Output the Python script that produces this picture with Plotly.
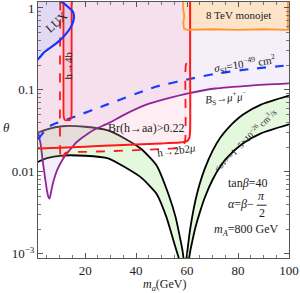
import plotly.graph_objects as go

# ---------------- data ----------------
lux_x = [1.0, 1.5, 4.0, 7.3, 10.0, 12.4, 14.2, 15.3, 15.6, 15.2, 14.4, 13.0, 11.2, 9.0]
lux_y = [0.235, 0.237, 0.29, 0.344, 0.40, 0.48, 0.57, 0.68, 0.80, 0.90, 0.96, 1.05, 1.16, 1.3]

h4b_x = [11.5, 11.5, 11.6, 12.0, 13.1, 14.2, 14.6, 14.7, 14.7]
h4b_y = [2.0, 0.06, 0.047, 0.043, 0.0425, 0.043, 0.047, 0.06, 2.0]

braa_x = [1.0, 10, 20, 30, 40, 50, 57, 59.8, 60.9, 61.2, 61.2, 61.2]
braa_y = [0.0193, 0.0197, 0.0203, 0.021, 0.0216, 0.0222, 0.0228, 0.0235, 0.026, 0.032, 0.2, 2.0]

h2b2mu_x = [10.3, 10.3, 10.5, 12.4, 20, 30, 40, 50, 56.5, 58.6, 59.3, 59.3, 59.5, 60.0, 60.6]
h2b2mu_y = [2.0, 0.0145, 0.0139, 0.0171, 0.0175, 0.0179, 0.0184, 0.0190, 0.0196, 0.021, 0.025, 0.15, 0.2, 0.222, 0.23]

sigma_x = [1.5, 6, 15, 29, 44, 48, 63, 71, 85, 100]
sigma_y = [0.025, 0.036, 0.046, 0.067, 0.1, 0.11, 0.14, 0.157, 0.18, 0.2]

bs_x = [1.5, 2.5, 3.5, 4.3, 4.9, 5.5, 6.0, 6.5, 7.2, 8.0, 9.0, 10.5, 12.0, 13.7, 16.0,
        18.8, 23, 29, 36, 44, 52, 60, 71, 85, 100]
bs_y = [0.031, 0.022, 0.0125, 0.0083, 0.0062, 0.0050, 0.0047, 0.0054, 0.0069, 0.0085,
        0.0105, 0.013, 0.0155, 0.018, 0.022, 0.026, 0.032, 0.039, 0.051, 0.066, 0.078,
        0.09, 0.104, 0.113, 0.12]

relicL_up_x = [1.5, 5, 11, 20, 29, 36, 42, 48, 53, 55.5, 57, 58.2, 58.8]
relicL_up_y = [0.030, 0.033, 0.036, 0.0355, 0.032, 0.025, 0.019, 0.012, 0.005, 0.0028, 0.0017, 0.0011, 0.0008]
relicL_lo_x = [1.5, 5, 11, 20, 29, 36, 42, 48, 51.9, 54, 55.8, 57.2]
relicL_lo_y = [0.0132, 0.0147, 0.0158, 0.0157, 0.0146, 0.0112, 0.0085, 0.0054, 0.0028, 0.0017, 0.0011, 0.0008]

relicR_in_x = [59.6, 60.3, 61, 62, 63.3, 65, 67, 70, 73, 76, 82, 89, 100]
relicR_in_y = [0.0008, 0.0012, 0.0018, 0.0028, 0.0045, 0.0072, 0.011, 0.018, 0.026, 0.034, 0.050, 0.066, 0.085]
relicR_out_x = [60.6, 61.3, 62, 63.3, 65, 67, 70, 73, 76, 82, 89, 100]
relicR_out_y = [0.0008, 0.0011, 0.0014, 0.0021, 0.0032, 0.0049, 0.008, 0.0116, 0.0152, 0.0223, 0.0295, 0.038]

mono_x = [58.8, 58.4, 58.9, 58.5, 58.8, 60, 70, 80, 90, 99.6, 99.6]
mono_y = [2.0, 1.0, 0.8, 0.65, 0.56, 0.54, 0.55, 0.54, 0.55, 0.54, 2.0]

y_tickvals = [1e-3, 1e-2, 0.1, 1]
y_ticktext = ["10<sup>−3</sup>", "0.01", "0.1", "1"]
x_tickvals = [20, 40, 60, 80, 100]

# ---------------- layout geometry ----------------
W, H = 300, 293
ML, MR, MT, MB = 38, 5, 1, 35
PW, PH = W - ML - MR, H - MT - MB
XR = [1.5, 100.0]
YR = [-3.052, 0.073]
FONT = "Liberation Serif, Times New Roman, serif"


def paper(xp, yp):
    return (xp - ML) / PW, (H - MB - yp) / PH


fig = go.Figure()


def fill(xs, ys, color):
    fig.add_trace(go.Scatter(x=xs, y=ys, mode="lines", fill="toself", fillcolor=color,
                             line=dict(width=0), hoverinfo="skip", showlegend=False))


def line(xs, ys, color, width=1.8, dash="solid", shape="spline"):
    fig.add_trace(go.Scatter(x=xs, y=ys, mode="lines",
                             line=dict(color=color, width=width, dash=dash, shape=shape,
                                       smoothing=0.6),
                             hoverinfo="skip", showlegend=False))


# relic density band (green)
fill(relicL_up_x + relicL_lo_x[::-1], relicL_up_y + relicL_lo_y[::-1], "rgb(228,248,222)")
fill(relicR_in_x + relicR_out_x[::-1], relicR_in_y + relicR_out_y[::-1], "rgb(228,248,222)")
for xs, ys in [(relicL_up_x, relicL_up_y), (relicL_lo_x, relicL_lo_y),
               (relicR_in_x, relicR_in_y), (relicR_out_x, relicR_out_y)]:
    line(xs, ys, "black", 1.8)

# Bs -> mu mu excluded region (above purple)
fill(bs_x + [100.5, 100.5, 1.0, 1.0], bs_y + [bs_y[-1], 3.0, 3.0, bs_y[0]], "rgba(205,175,225,0.2)")

# Br(h->aa) region (pink)
fill(braa_x + [1.0], braa_y + [2.0], "rgba(250,175,200,0.22)")
# h->4b box
fill(h4b_x, h4b_y, "rgba(255,120,140,0.2)")
# LUX
fill(lux_x + [1.0], lux_y + [1.3], "rgba(205,210,245,0.5)")
# monojet
fill(mono_x, mono_y, "rgb(253,228,200)")

line(bs_x, bs_y, "rgb(145,35,155)", 1.8)
line(sigma_x, sigma_y, "rgb(25,60,255)", 2.2, "dash")
line(braa_x, braa_y, "rgb(255,25,25)", 2.0)
line(h2b2mu_x, h2b2mu_y, "rgb(255,25,25)", 1.8, "dash")
line(h4b_x, h4b_y, "rgb(255,25,25)", 1.8)
line(lux_x, lux_y, "rgb(25,50,255)", 2.2)
line(mono_x, mono_y, "rgb(255,150,50)", 1.8, shape="linear")

# ---------------- text ----------------
ann = []


def text(xp, yp, s, size=12, angle=0, color="#222"):
    px_, py_ = paper(xp, yp)
    ann.append(dict(x=px_, y=py_, xref="paper", yref="paper", text=s, showarrow=False,
                    textangle=angle, xanchor="center", yanchor="middle",
                    font=dict(family=FONT, size=size, color=color)))


text(57, 21, "LUX", 12, -42)
text(68.5, 65, "h→4b", 11, -90)
text(250, 63, "<i>σ</i><sub>SI</sub>=10<sup>−49</sup> cm<sup>2</sup>", 11, -8)
text(231, 97, "<i>B</i><sub>S</sub>→<i>μ</i><sup>+</sup><i>μ</i><sup>−</sup>", 11, -5)
text(149, 127, "Br(h→aa)>0.22", 12)
text(180, 150, "h→2b2<i>μ</i>", 11, -8)
text(250, 140, "&lt;<i>σv</i>&gt;=1−5×10<sup>−26</sup> cm<sup>3</sup>/s", 9, -45)
text(252, 183, "tan<i>β</i>=40", 12)
text(246, 204, "<i>α</i>=<i>β</i>−", 12)
text(267, 196, "<i>π</i>", 12)
text(267, 213, "2", 12)
text(251, 230, "<i>m</i><sub><i>A</i></sub>=800 GeV", 12)
text(243, 14, "8 TeV monojet", 11)
text(6, 127, "<i>θ</i>", 13)
text(168, 285, "<i>m</i><sub><i>a</i></sub>(GeV)", 12)

p0 = paper(262, 205)
p1 = paper(272, 205)
shapes = [dict(type="line", xref="paper", yref="paper", x0=p0[0], y0=p0[1], x1=p1[0], y1=p1[1],
               line=dict(color="#222", width=1))]

minor_y = [k * 10 ** e for e in range(-4, 1) for k in range(2, 10) if 8.8e-4 < k * 10 ** e < 1.18]

fig.update_layout(
    width=W, height=H, margin=dict(l=ML, r=MR, t=MT, b=MB, pad=0),
    paper_bgcolor="white", plot_bgcolor="white", showlegend=False,
    annotations=ann, shapes=shapes,
    font=dict(family=FONT, size=13, color="#222"),
    xaxis=dict(range=XR, tickvals=x_tickvals, ticks="inside", ticklen=5, tickcolor="#555",
               showline=True, linecolor="#555", linewidth=1, mirror="allticks",
               ticklabeloverflow="allow",
               showgrid=False, zeroline=False, tickfont=dict(family=FONT, size=13, color="#222"),
               minor=dict(ticks="inside", ticklen=3, dtick=5, tick0=0, tickcolor="#777", showgrid=False)),
    yaxis=dict(type="log", range=YR, tickvals=y_tickvals, ticktext=y_ticktext, ticks="inside",
               ticklen=5, tickcolor="#555", showline=True, linecolor="#555", linewidth=1,
               mirror="allticks", showgrid=False, zeroline=False, ticklabeloverflow="allow",
               tickfont=dict(family=FONT, size=13, color="#222"),
               minor=dict(ticks="inside", ticklen=3, tickvals=minor_y, tickcolor="#777", showgrid=False)),
)

fig.write_html("out.html", config={"displayModeBar": False},
               post_script="document.body.style.margin='0';document.body.style.overflow='hidden';")
